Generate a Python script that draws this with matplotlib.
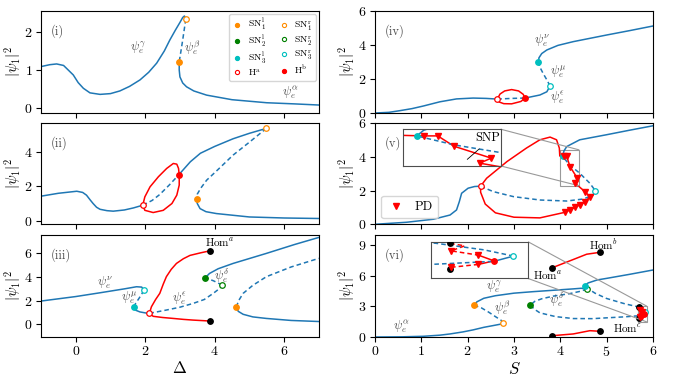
import numpy as np
import matplotlib
matplotlib.use('Agg')
import matplotlib.pyplot as plt
from matplotlib.lines import Line2D
from mpl_toolkits.axes_grid1.inset_locator import mark_inset

plt.rcParams['font.family'] = 'serif'
plt.rcParams['font.serif'] = ['cmr10']
plt.rcParams['mathtext.fontset'] = 'cm'
plt.rcParams['axes.formatter.use_mathtext'] = True
plt.rcParams['font.size'] = 10
plt.rcParams['xtick.major.pad'] = 2.5
plt.rcParams['ytick.major.pad'] = 2.5

BLUE = '#1f77b4'
ORANGE = 'darkorange'
GREEN = 'green'
CYAN = 'c'
RED = 'red'

# ---------------- panel (i): |psi1|^2 vs Delta ----------------
i_gamma = np.array([(-1, 1.09), (-0.75, 1.14), (-0.55, 1.16), (-0.35, 1.12), (-0.26, 1.04),
                    (-0.07, 0.87), (0.07, 0.67), (0.22, 0.52), (0.41, 0.40), (0.7, 0.36),
                    (1.0, 0.38), (1.27, 0.45), (1.55, 0.57), (1.85, 0.74), (2.1, 0.94),
                    (2.33, 1.18), (2.55, 1.5), (2.71, 1.79), (2.87, 2.05), (3.0, 2.25),
                    (3.08, 2.38), (3.13, 2.42), (3.17, 2.34)])
i_beta = np.array([(3.17, 2.34), (3.13, 2.1), (3.08, 1.79), (3.03, 1.5), (2.98, 1.22)])
i_alpha = np.array([(2.98, 1.22), (2.98, 1.0), (3.0, 0.82), (3.08, 0.66), (3.19, 0.56),
                    (3.4, 0.45), (3.77, 0.34), (4.5, 0.22), (5.5, 0.14), (6.3, 0.11), (7, 0.08)])
i_sn1l = (2.98, 1.22)
i_sn1r = (3.17, 2.34)

# ---------------- panel (ii) ----------------
ii_left = np.array([(-1, 1.43), (-0.5, 1.6), (0.03, 1.72), (0.2, 1.65), (0.31, 1.49),
                    (0.42, 1.2), (0.5, 1.0), (0.6, 0.78), (0.7, 0.66), (0.9, 0.58),
                    (1.08, 0.55), (1.4, 0.62), (1.66, 0.74), (1.93, 0.9)])
ii_mid = np.array([(1.93, 0.9), (2.2, 1.18), (2.42, 1.53), (2.7, 2.1), (2.96, 2.67)])
ii_upper = np.array([(2.96, 2.67), (3.3, 3.45), (3.59, 3.95), (4.0, 4.35), (4.53, 4.8),
                     (5.0, 5.12), (5.49, 5.41)])
ii_back = np.array([(5.49, 5.41), (5.0, 4.6), (4.53, 3.84), (4.1, 3.0), (3.77, 2.37),
                    (3.6, 1.9), (3.5, 1.55), (3.48, 1.29)])
ii_lower = np.array([(3.48, 1.29), (3.5, 1.0), (3.58, 0.7), (3.75, 0.52), (4.05, 0.41),
                     (5.0, 0.21), (6.0, 0.15), (7, 0.12)])
ii_orbit = np.array([(1.93, 0.9), (1.99, 1.39), (2.14, 1.98), (2.38, 2.57), (2.62, 3.06),
                     (2.81, 3.35), (2.91, 3.31), (2.96, 3.06), (2.98, 2.67), (2.98, 2.08),
                     (2.91, 1.49), (2.77, 1.0), (2.52, 0.6), (2.23, 0.47), (1.99, 0.6),
                     (1.93, 0.9)])
ii_ha = (1.93, 0.9)
ii_hb = (2.97, 2.67)
ii_sn1l = (3.48, 1.29)
ii_sn1r = (5.49, 5.41)

# ---------------- panel (iii) ----------------
iii_nu = np.array([(-1, 1.97), (0, 2.35), (0.7, 2.67), (1.4, 3.0), (1.75, 3.18),
                   (1.9, 3.15), (1.96, 2.9)])
iii_mu = np.array([(1.96, 2.9), (1.9, 2.55), (1.8, 2.1), (1.72, 1.75), (1.68, 1.46)])
iii_low = np.array([(1.68, 1.46), (1.72, 1.2), (1.85, 1.05), (2.0, 0.97), (2.12, 0.93)])
iii_eps = np.array([(2.12, 0.93), (2.61, 1.21), (3.0, 1.45), (3.38, 1.77), (3.7, 2.1),
                    (3.96, 2.62), (4.15, 3.05), (4.22, 3.32)])
iii_delta = np.array([(4.22, 3.32), (3.96, 3.69), (3.73, 3.94)])
iii_top = np.array([(3.73, 3.94), (3.85, 4.3), (4.1, 4.7), (4.53, 5.15), (5.49, 6.0),
                    (6.3, 6.75), (7, 7.35)])
iii_right_up = np.array([(4.62, 1.46), (4.7, 2.05), (4.82, 2.62), (5.1, 3.3), (5.49, 4.03),
                         (6.2, 4.85), (7, 5.58)])
iii_right_low = np.array([(4.62, 1.46), (4.68, 1.1), (4.82, 0.85), (5.1, 0.63), (5.49, 0.5),
                          (6.2, 0.33), (7, 0.24)])
iii_red_up = np.array([(2.12, 0.93), (2.18, 1.49), (2.3, 2.1), (2.42, 2.62), (2.52, 3.4),
                       (2.61, 4.03), (2.75, 4.65), (2.9, 5.15), (3.1, 5.55), (3.29, 5.83),
                       (3.6, 6.05), (3.87, 6.22)])
iii_red_low = np.array([(2.12, 0.93), (2.23, 0.68), (2.5, 0.58), (2.81, 0.5), (3.1, 0.42),
                        (3.38, 0.36), (3.87, 0.28)])
iii_hom = np.array([(3.87, 6.22), (3.87, 0.28)])

# ---------------- panel (iv): |psi1|^2 vs S ----------------
iv_a = np.array([(0, 0), (0.3, 0.04), (0.54, 0.14), (0.8, 0.26), (1.04, 0.41), (1.4, 0.66),
                 (1.76, 0.83), (2.12, 0.88), (2.4, 0.86), (2.64, 0.82)])
iv_b = np.array([(2.64, 0.82), (2.95, 0.86), (3.24, 0.88)])
iv_c = np.array([(3.24, 0.88), (3.4, 0.97), (3.56, 1.06), (3.71, 1.25), (3.78, 1.59)])
iv_d = np.array([(3.78, 1.59), (3.7, 2.0), (3.63, 2.33), (3.56, 2.7), (3.53, 2.98)])
iv_e = np.array([(3.53, 2.98), (3.54, 3.25), (3.6, 3.5), (3.71, 3.71), (3.95, 3.98),
                 (4.28, 4.2), (5.0, 4.59), (5.5, 4.85), (6, 5.12)])
iv_orbit = np.array([(2.64, 0.82), (2.7, 1.12), (2.8, 1.3), (2.95, 1.38), (3.1, 1.3),
                     (3.2, 1.1), (3.24, 0.88), (3.15, 0.68), (2.95, 0.54), (2.78, 0.55),
                     (2.68, 0.65), (2.64, 0.82)])

# ---------------- panel (v) ----------------
v_a = np.array([(0, 0), (0.68, 0.12), (1.26, 0.3), (1.62, 0.55), (1.76, 0.85), (1.82, 1.34),
                (1.87, 1.84), (2.01, 2.14), (2.15, 2.24), (2.28, 2.26)])
v_b = np.array([(2.28, 2.26), (2.55, 1.94), (2.99, 1.64), (3.56, 1.44), (4.14, 1.38),
                (4.5, 1.5), (4.71, 1.74), (4.76, 1.98), (4.64, 2.43), (4.42, 3.03),
                (4.21, 3.5), (4.05, 4.02)])
v_c = np.array([(4.05, 4.02), (4.08, 4.35), (4.14, 4.61), (4.42, 5.01), (5.0, 5.31),
                (5.5, 5.58), (6, 5.84)])
v_red = np.array([(2.28, 2.26), (2.41, 2.73), (2.85, 3.72), (3.27, 4.52), (3.56, 5.01),
                  (3.78, 5.17), (3.92, 5.01), (3.98, 4.52), (3.99, 4.05), (4.08, 4.02),
                  (4.14, 4.02), (4.21, 3.42), (4.37, 2.73), (4.32, 2.44), (4.53, 1.94),
                  (4.64, 1.64), (4.53, 1.31), (4.42, 1.15), (4.32, 1.01), (4.21, 0.85),
                  (4.10, 0.71), (3.56, 0.38), (3.0, 0.42), (2.6, 0.68), (2.38, 1.2),
                  (2.28, 1.9), (2.28, 2.26)])
v_pd = np.array([(4.08, 4.02), (4.14, 4.02), (4.21, 3.42), (4.37, 2.73), (4.32, 2.44),
                 (4.53, 1.94), (4.64, 1.64), (4.53, 1.31), (4.42, 1.15), (4.32, 1.01),
                 (4.21, 0.85), (4.10, 0.71)])
v_zoom = (3.99, 4.41, 2.28, 4.41)

# ---------------- panel (vi) ----------------
vi_alpha = np.array([(0, 0), (0.6, 0.02), (1.04, 0.07), (1.4, 0.18), (1.62, 0.3), (1.9, 0.5),
                     (2.12, 0.7), (2.35, 0.95), (2.55, 1.12), (2.7, 1.25), (2.77, 1.33)])
vi_beta = np.array([(2.77, 1.33), (2.72, 1.65), (2.6, 2.0), (2.45, 2.45), (2.3, 2.85),
                    (2.14, 3.12)])
vi_gamma = np.array([(2.14, 3.12), (2.2, 3.45), (2.35, 3.8), (2.6, 4.05), (3.0, 4.3),
                     (3.42, 4.45), (3.9, 4.6), (4.28, 4.72), (4.45, 4.78), (4.58, 4.73)])
vi_delta = np.array([(4.58, 4.73), (4.45, 4.5), (4.2, 4.25), (3.85, 4.01), (3.6, 3.75),
                     (3.45, 3.5), (3.35, 3.12)])
vi_eps = np.array([(3.35, 3.12), (3.45, 2.7), (3.56, 2.37), (3.9, 2.0), (4.28, 1.81),
                   (4.7, 1.8), (5.0, 1.88), (5.4, 1.98), (5.68, 2.08), (5.80, 2.2)])
vi_tip = np.array([(5.80, 2.2), (5.84, 2.42)])
vi_back = np.array([(5.84, 2.42), (5.78, 2.68), (5.68, 2.96), (5.4, 3.25), (5.0, 3.78),
                    (4.75, 4.3), (4.6, 4.75), (4.53, 5.03)])
vi_top = np.array([(4.53, 5.03), (4.6, 5.3), (4.8, 5.6), (5.0, 5.75), (5.5, 6.15), (6, 6.57)])
vi_red_a = np.array([(3.83, 6.8), (4.28, 7.6), (4.57, 8.12), (4.86, 8.31)])
vi_red_b = np.array([(3.83, 0.13), (4.28, 0.3), (4.64, 0.62), (4.86, 0.56)])
vi_red_c1 = np.array([(5.71, 2.95), (5.74, 2.85), (5.712, 2.64), (5.768, 2.46)])
vi_red_c2 = np.array([(5.768, 2.46), (5.80, 2.22), (5.768, 2.07)])
vi_red_c3 = np.array([(5.768, 2.07), (5.712, 1.95), (5.71, 1.87)])
vi_pd = np.array([(5.712, 2.64), (5.768, 2.46), (5.768, 2.07), (5.712, 1.95)])
vi_hom = np.array([(3.83, 6.8), (4.86, 8.31), (3.83, 0.13), (4.86, 0.56), (5.71, 2.95),
                   (5.71, 1.87)])
vi_zoom = (5.67, 5.87, 1.48, 3.02)


def line(ax, a, dashed=False, color=BLUE, lw=1.1):
    ax.plot(a[:, 0], a[:, 1], '--' if dashed else '-', color=color, lw=lw, dashes=(3, 2) if dashed else (None, None))


def dot(ax, pt, color, filled=True, ms=4):
    ax.plot(pt[0], pt[1], 'o', ms=ms, mfc=color if filled else 'white', mec=color, mew=0.9, zorder=5)


def lab(ax, x, y, s, fs=9):
    ax.text(x, y, s, fontsize=fs, color='0.3', ha='center', va='center')


fig = plt.figure(figsize=(6.81, 3.79), dpi=100)
L, R, W = 0.0602, 0.5507, 0.408
rows = [(0.7018, 0.269), (0.4082, 0.267), (0.1108, 0.269)]
axs = [[fig.add_axes([x0, y0, W, h]) for (y0, h) in rows] for x0 in (L, R)]
ax1, ax2, ax3 = axs[0]
ax4, ax5, ax6 = axs[1]

# (i)
line(ax1, i_gamma); line(ax1, i_beta, True); line(ax1, i_alpha)
dot(ax1, i_sn1l, ORANGE); dot(ax1, i_sn1r, ORANGE, False)
lab(ax1, 1.79, 1.6, r'$\psi_e^\gamma$'); lab(ax1, 3.35, 1.6, r'$\psi_e^\beta$')
lab(ax1, 6.17, 0.4, r'$\psi_e^\alpha$')
ax1.set_ylim(-0.13, 2.55); ax1.set_yticks([0, 1, 2])
handles = [Line2D([], [], ls='', marker='o', ms=3, mfc=c if f else 'white', mec=c, mew=0.8)
           for c, f in [(ORANGE, 1), (GREEN, 1), (CYAN, 1), (RED, 0),
                        (ORANGE, 0), (GREEN, 0), (CYAN, 0), (RED, 1)]]
labels = [r'$\mathrm{SN}^\mathrm{l}_1$', r'$\mathrm{SN}^\mathrm{l}_2$', r'$\mathrm{SN}^\mathrm{l}_3$',
          r'$\mathrm{H}^\mathrm{a}$', r'$\mathrm{SN}^\mathrm{r}_1$', r'$\mathrm{SN}^\mathrm{r}_2$',
          r'$\mathrm{SN}^\mathrm{r}_3$', r'$\mathrm{H}^\mathrm{b}$']
ax1.legend(handles, labels, ncol=2, loc='upper right', fontsize=7, handlelength=1,
           labelspacing=0.15, columnspacing=1.3, handletextpad=0.6, borderaxespad=0.3,
           borderpad=0.35)

# (ii)
ax2.plot(ii_orbit[:, 0], ii_orbit[:, 1], color=RED, lw=1.1)
line(ax2, ii_left); line(ax2, ii_mid, True); line(ax2, ii_upper)
line(ax2, ii_back, True); line(ax2, ii_lower)
dot(ax2, ii_ha, RED, False); dot(ax2, ii_hb, RED)
dot(ax2, ii_sn1l, ORANGE); dot(ax2, ii_sn1r, ORANGE, False)
ax2.set_ylim(-0.22, 5.72); ax2.set_yticks([0, 2, 4])

# (iii)
line(ax3, iii_red_up, color=RED); line(ax3, iii_red_low, color=RED)
line(ax3, iii_nu); line(ax3, iii_mu, True); line(ax3, iii_low)
line(ax3, iii_eps, True); line(ax3, iii_delta, True); line(ax3, iii_top)
line(ax3, iii_right_up, True); line(ax3, iii_right_low)
dot(ax3, (1.96, 2.9), CYAN, False); dot(ax3, (1.68, 1.46), CYAN)
dot(ax3, (2.12, 0.93), RED, False)
dot(ax3, (4.22, 3.32), GREEN, False); dot(ax3, (3.73, 3.94), GREEN)
dot(ax3, (4.62, 1.46), ORANGE)
for p in iii_hom:
    dot(ax3, p, 'k')
ax3.text(4.15, 6.9, r'Hom$^a$', fontsize=8, ha='center', va='center')
lab(ax3, 0.84, 3.5, r'$\psi_e^\nu$'); lab(ax3, 1.53, 2.2, r'$\psi_e^\mu$')
lab(ax3, 3.0, 2.1, r'$\psi_e^\epsilon$'); lab(ax3, 4.22, 4.1, r'$\psi_e^\delta$')
ax3.set_ylim(-1.07, 7.55); ax3.set_yticks([0, 2, 4, 6])
ax3.set_xlabel(r'$\Delta$', fontsize=12, labelpad=1)

# (iv)
ax4.plot(iv_orbit[:, 0], iv_orbit[:, 1], color=RED, lw=1.1)
line(ax4, iv_a); line(ax4, iv_b, True); line(ax4, iv_c); line(ax4, iv_d, True); line(ax4, iv_e)
dot(ax4, (2.64, 0.82), RED, False); dot(ax4, (3.24, 0.88), RED)
dot(ax4, (3.78, 1.59), CYAN, False); dot(ax4, (3.53, 2.98), CYAN)
lab(ax4, 3.6, 4.25, r'$\psi_e^\nu$'); lab(ax4, 3.95, 2.43, r'$\psi_e^\mu$')
lab(ax4, 3.95, 0.86, r'$\psi_e^\epsilon$')
ax4.set_ylim(0, 6); ax4.set_yticks([0, 2, 4, 6])


def draw_v(ax):
    line(ax, v_red, color=RED)
    line(ax, v_a); line(ax, v_b, True); line(ax, v_c)
    dot(ax, (2.28, 2.26), RED, False)
    dot(ax, (4.76, 1.98), CYAN, False); dot(ax, (4.05, 4.02), CYAN)
    ax.plot(v_pd[:, 0], v_pd[:, 1], 'v', color=RED, ms=5, zorder=6)


# (v)
draw_v(ax5)
ax5.plot([], [], 'v', color=RED, ms=5, label='PD')
ax5.legend(loc='lower left', fontsize=9, handlelength=1.5, borderaxespad=0.5)
ax5.set_ylim(0, 6); ax5.set_yticks([0, 2, 4, 6])
ins5 = ax5.inset_axes([0.10, 0.577, 0.352, 0.363])
draw_v(ins5)
ins5.set_xlim(v_zoom[0], v_zoom[1]); ins5.set_ylim(v_zoom[2], v_zoom[3])
ins5.set_xticks([]); ins5.set_yticks([])
ins5.text(0.865, 0.76, 'SNP', transform=ins5.transAxes, fontsize=9, ha='center', va='center')
ins5.plot([0.78, 0.66], [0.46, 0.18], color='k', lw=0.6, transform=ins5.transAxes)
for s in ins5.spines.values():
    s.set_color('0.3')
mark_inset(ax5, ins5, loc1=1, loc2=4, fc='none', ec='0.6', lw=0.8)


def draw_vi(ax):
    for a in (vi_red_a, vi_red_b, vi_red_c2):
        line(ax, a, color=RED)
    line(ax, vi_red_c1, True, color=RED); line(ax, vi_red_c3, True, color=RED)
    line(ax, vi_alpha); line(ax, vi_beta, True); line(ax, vi_gamma)
    line(ax, vi_delta, True); line(ax, vi_eps, True); line(ax, vi_tip)
    line(ax, vi_back, True); line(ax, vi_top)
    dot(ax, (2.14, 3.12), ORANGE); dot(ax, (2.77, 1.33), ORANGE, False)
    dot(ax, (3.35, 3.12), GREEN); dot(ax, (4.58, 4.73), GREEN, False)
    dot(ax, (4.53, 5.03), CYAN); dot(ax, (5.84, 2.42), CYAN, False)
    ax.plot(vi_pd[:, 0], vi_pd[:, 1], 'v', color=RED, ms=5, zorder=6)
    dot(ax, (5.80, 2.22), RED)
    for p in vi_hom:
        dot(ax, p, 'k')


# (vi)
draw_vi(ax6)
ax6.text(4.93, 9.1, r'Hom$^b$', fontsize=8, ha='center', va='center')
ax6.text(3.74, 6.05, r'Hom$^a$', fontsize=8, ha='center', va='center')
ax6.text(5.45, 0.85, r'Hom$^c$', fontsize=8, ha='center', va='center')
lab(ax6, 2.57, 4.95, r'$\psi_e^\gamma$'); lab(ax6, 2.75, 2.9, r'$\psi_e^\beta$')
lab(ax6, 3.92, 3.62, r'$\psi_e^\delta$'); lab(ax6, 0.58, 1.0, r'$\psi_e^\alpha$')
ax6.set_ylim(0, 10); ax6.set_yticks([0, 3, 6, 9])
ax6.set_xlabel(r'$S$', fontsize=12, labelpad=1)
ins6 = ax6.inset_axes([0.20, 0.574, 0.351, 0.36])
draw_vi(ins6)
ins6.set_xlim(vi_zoom[0], vi_zoom[1]); ins6.set_ylim(vi_zoom[2], vi_zoom[3])
ins6.set_xticks([]); ins6.set_yticks([])
for s in ins6.spines.values():
    s.set_color('0.3')
mark_inset(ax6, ins6, loc1=1, loc2=4, fc='none', ec='0.6', lw=0.8)

tags = ['(i)', '(ii)', '(iii)', '(iv)', '(v)', '(vi)']
for ax, t in zip([ax1, ax2, ax3, ax4, ax5, ax6], tags):
    ax.text(0.035, 0.8, t, transform=ax.transAxes, fontsize=9, va='center', color='0.3')
    ax.set_ylabel(r'$|\psi_1|^2$', fontsize=10.5, labelpad=1)

for ax in (ax1, ax2, ax3):
    ax.set_xlim(-1, 7); ax.set_xticks([0, 2, 4, 6])
for ax in (ax4, ax5, ax6):
    ax.set_xlim(0, 6); ax.set_xticks(range(7))
for ax in (ax1, ax2, ax4, ax5):
    ax.set_xticklabels([])

plt.savefig('out.png', dpi=100)
